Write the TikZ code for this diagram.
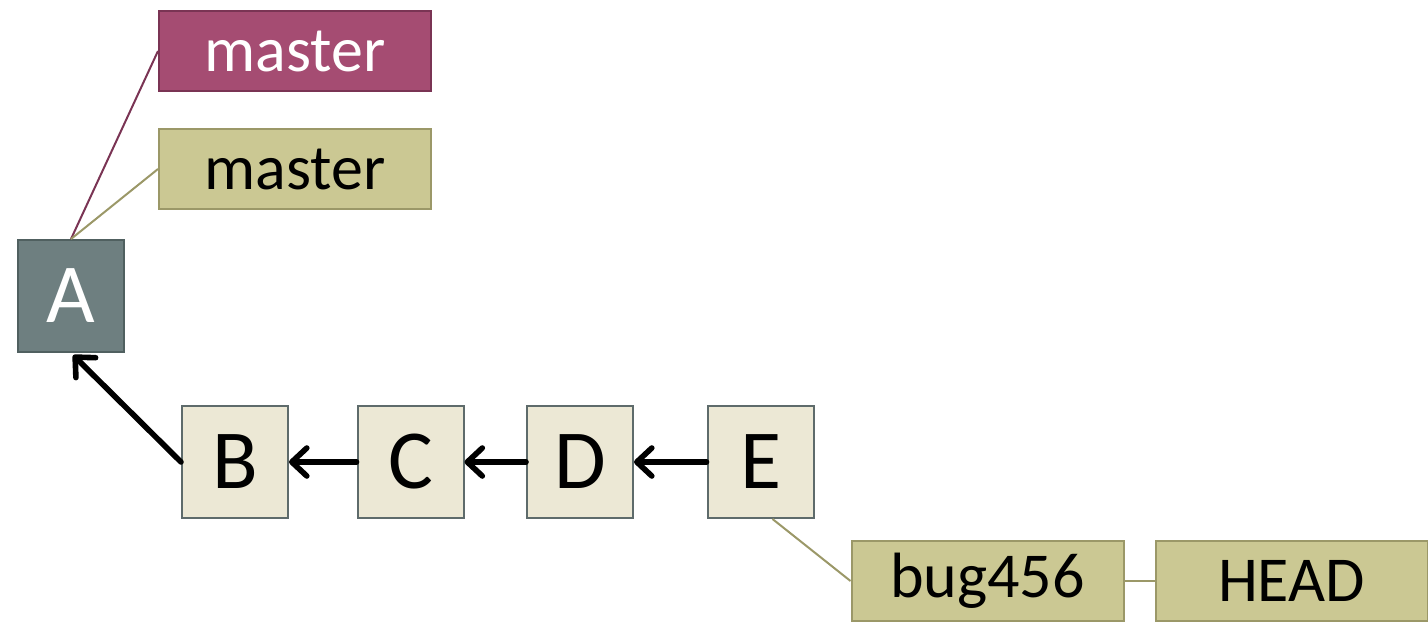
\documentclass[tikz,border=0pt]{standalone}
\usepackage{fontspec}
\setmainfont{Carlito}
\usetikzlibrary{arrows.meta}
\definecolor{refpurple}{HTML}{A54C72}
\definecolor{refpurpleline}{HTML}{7A3454}
\definecolor{refolive}{HTML}{CBC893}
\definecolor{refoliveline}{HTML}{9B9868}
\definecolor{commitfill}{HTML}{ECE8D5}
\definecolor{commitline}{HTML}{5E6B6B}
\definecolor{headfill}{HTML}{6E7F80}
\definecolor{headline}{HTML}{506060}

\begin{document}
\begin{tikzpicture}[x=0.5pt,y=-0.5pt,
        commitbox/.style={draw=commitline,fill=commitfill,line width=1pt,minimum width=53pt,minimum height=56pt,inner sep=0pt,font=\fontsize{42}{48}\selectfont},
        refbox/.style={draw=refoliveline,fill=refolive,line width=1pt,minimum width=136pt,minimum height=40pt,inner sep=0pt,font=\fontsize{32}{36}\selectfont},
        parent/.style={line width=2.8pt,line cap=round,-{Straight Barb[length=7.5pt,width=14pt,round]}}]
        \useasboundingbox (0,0) rectangle (1428,621);

        \node[refbox,fill=refpurple,draw=refpurpleline,text=white] at (295,51) (master-remote) {master};
        \node[refbox] at (295,169) (master-local) {master};

        \node[commitbox,fill=headfill,draw=headline,text=white] at (71,296) (commit-a) {A};
        \node[commitbox] at (235,462) (commit-b) {B};
        \node[commitbox] at (410.5,462) (commit-c) {C};
        \node[commitbox] at (580,462) (commit-d) {D};
        \node[commitbox] at (760.5,462) (commit-e) {E};

        \node[refbox] at (987.5,581) (bug-456) {bug456};
        \node[refbox] at (1291.5,581) (head) {HEAD};

        \draw[refpurpleline,line width=1pt] (commit-a.north) -- (master-remote.west);
        \draw[refoliveline,line width=1pt] (commit-a.north) -- (master-local.west);

        \draw[parent,shorten >=1.5pt] (commit-b.west) -- (commit-a.south);
        \draw[parent] (commit-c) -- (commit-b);
        \draw[parent] (commit-d) -- (commit-c);
        \draw[parent] (commit-e) -- (commit-d);

        \draw[refoliveline,line width=1pt] ([xshift=6pt]commit-e.south) -- (bug-456.west);
        \draw[refoliveline,line width=1pt] (bug-456) -- (head);
    \end{tikzpicture}
\end{document}
